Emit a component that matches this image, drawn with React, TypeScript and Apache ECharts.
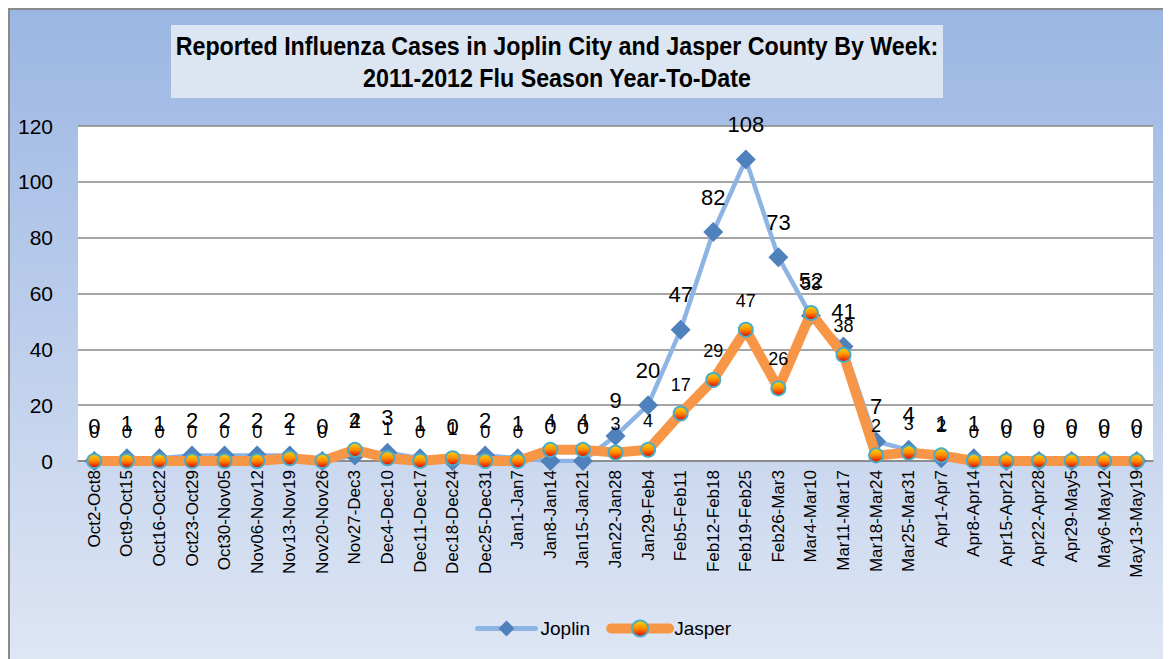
import React, { useEffect, useRef } from "react";
import * as echarts from "echarts";

const weeks = [
  "Oct2-Oct8", "Oct9-Oct15", "Oct16-Oct22", "Oct23-Oct29", "Oct30-Nov05", "Nov06-Nov12",
  "Nov13-Nov19", "Nov20-Nov26", "Nov27-Dec3", "Dec4-Dec10", "Dec11-Dec17", "Dec18-Dec24",
  "Dec25-Dec31", "Jan1-Jan7", "Jan8-Jan14", "Jan15-Jan21", "Jan22-Jan28", "Jan29-Feb4",
  "Feb5-Feb11", "Feb12-Feb18", "Feb19-Feb25", "Feb26-Mar3", "Mar4-Mar10", "Mar11-Mar17",
  "Mar18-Mar24", "Mar25-Mar31", "Apr1-Apr7", "Apr8-Apr14", "Apr15-Apr21", "Apr22-Apr28",
  "Apr29-May5", "May6-May12", "May13-May19",
];

const joplin = [0, 1, 1, 2, 2, 2, 2, 0, 2, 3, 1, 0, 2, 1, 0, 0, 9, 20, 47, 82, 108, 73, 52, 41, 7, 4, 1, 1, 0, 0, 0, 0, 0];
const jasper = [0, 0, 0, 0, 0, 0, 1, 0, 4, 1, 0, 1, 0, 0, 4, 4, 3, 4, 17, 29, 47, 26, 53, 38, 2, 3, 2, 0, 0, 0, 0, 0, 0];

const yTicks = { min: 0, max: 120, interval: 20 };

const titleLines = [
  "Reported Influenza Cases in Joplin City and Jasper County By Week:",
  "2011-2012 Flu Season Year-To-Date",
];

const SANS = '"Liberation Sans", Arial, sans-serif';

export default function App() {
  const ref = useRef<HTMLDivElement>(null);

  useEffect(() => {
    document.documentElement.style.overflow = "hidden";
    const chart = echarts.init(ref.current!, null, { renderer: "svg" });
    const option: any = {
      animation: false,
      backgroundColor: new echarts.graphic.LinearGradient(0, 0, 0, 1, [
        { offset: 0, color: "#9bb6e3" },
        { offset: 1, color: "#dee6f4" },
      ]),
      graphic: [
        {
          type: "rect",
          shape: { x: 1, y: 1, width: 1300, height: 800 },
          style: { fill: "none", stroke: "#8a8a8a", lineWidth: 2 },
          silent: true,
        },
        {
          type: "rect",
          shape: { x: 163, y: 17, width: 772, height: 73 },
          style: { fill: "#dce6f2" },
          silent: true,
        },
        {
          type: "text",
          x: 549,
          y: 54,
          scaleX: 0.93,
          style: {
            text: titleLines.join("\n"),
            textAlign: "center",
            textVerticalAlign: "middle",
            fontFamily: SANS,
            fontWeight: "bold",
            fontSize: 25,
            lineHeight: 32,
            fill: "#000",
          },
          silent: true,
        },
      ],
      grid: {
        left: 70,
        right: 18,
        top: 118,
        bottom: 198,
        show: true,
        backgroundColor: "#ffffff",
        borderWidth: 0,
      },
      legend: {
        left: 462,
        top: 606,
        itemWidth: 58,
        itemHeight: 20,
        itemGap: 16,
        textStyle: { fontFamily: SANS, fontSize: 19, color: "#000" },
        data: [
          { name: "Joplin", lineStyle: { width: 5, cap: "round" } },
          { name: "Jasper", lineStyle: { width: 10, cap: "round" } },
        ],
      },
      xAxis: {
        type: "category",
        data: weeks,
        boundaryGap: true,
        axisLine: { lineStyle: { color: "#878787", width: 1.5 } },
        axisTick: { show: false },
        axisLabel: {
          rotate: 90,
          interval: 0,
          margin: 9,
          fontFamily: SANS,
          fontSize: 17,
          color: "#000",
        },
      },
      yAxis: {
        type: "value",
        min: yTicks.min,
        max: yTicks.max,
        interval: yTicks.interval,
        axisLine: { show: false },
        axisTick: { show: false },
        splitLine: { lineStyle: { color: "#878787", width: 1.5 } },
        axisLabel: {
          margin: 25,
          fontFamily: SANS,
          fontSize: 21,
          color: "#000",
        },
      },
      series: [
        {
          name: "Joplin",
          type: "line",
          data: joplin,
          symbol: "diamond",
          symbolSize: 20,
          z: 2,
          lineStyle: { color: "#8eb4e3", width: 4.5 },
          itemStyle: { color: "#4f81bd" },
          label: {
            show: true,
            position: "top",
            distance: 14,
            fontFamily: SANS,
            fontSize: 22,
            color: "#000",
          },
        },
        {
          name: "Jasper",
          type: "line",
          data: jasper,
          symbol: "circle",
          symbolSize: 14,
          z: 3,
          lineStyle: { color: "#f79646", width: 10 },
          itemStyle: {
            color: new echarts.graphic.LinearGradient(0, 0, 0, 1, [
              { offset: 0, color: "#ffd800" },
              { offset: 0.5, color: "#ff8a00" },
              { offset: 1, color: "#e00000" },
            ]),
            borderColor: "#4bacc6",
            borderWidth: 2,
          },
          label: {
            show: true,
            position: "top",
            distance: 12,
            fontFamily: SANS,
            fontSize: 18,
            color: "#000",
          },
        },
      ],
    };
    chart.setOption(option);
    return () => chart.dispose();
  }, []);

  return <div ref={ref} style={{ width: 1163, height: 651 }} />;
}
